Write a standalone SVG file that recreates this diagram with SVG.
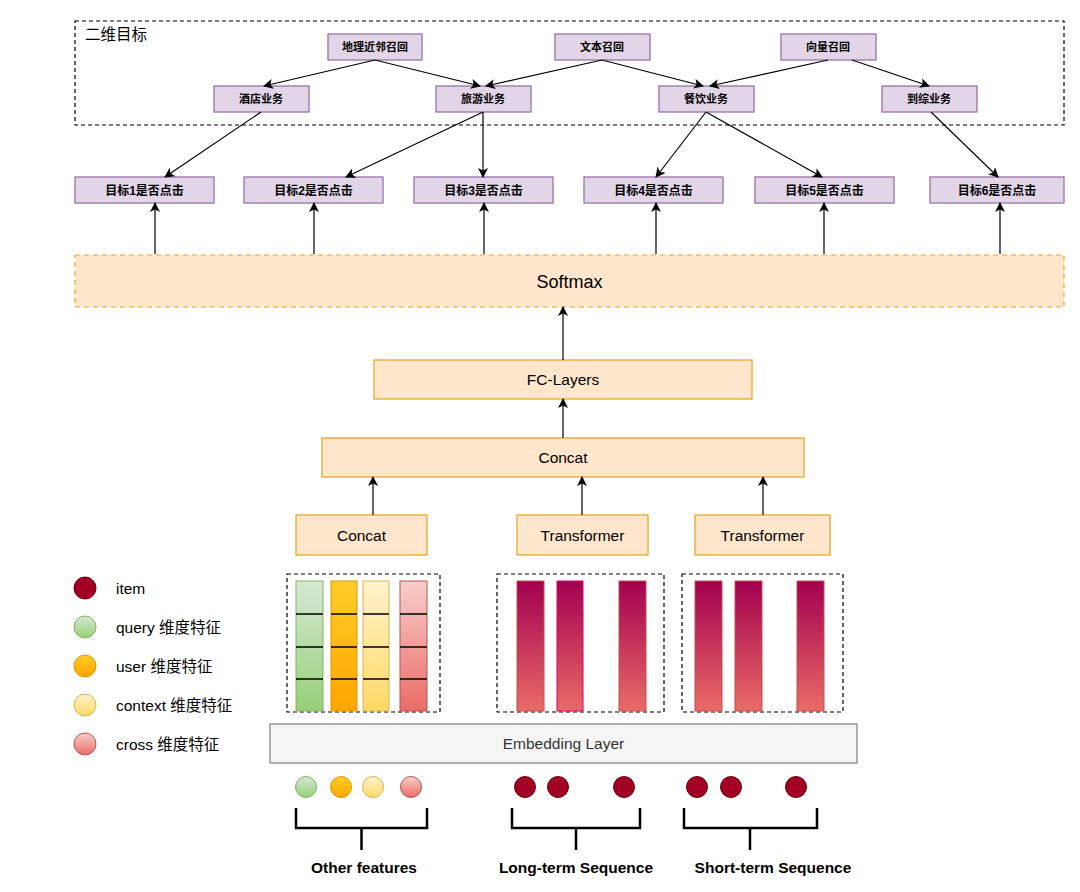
<svg xmlns="http://www.w3.org/2000/svg" width="1080" height="892" viewBox="0 0 1080 892">
<defs>
<marker id="arr" viewBox="0 0 10 10" refX="9" refY="5" markerWidth="10" markerHeight="10" markerUnits="userSpaceOnUse" orient="auto">
<path d="M0,0 L10,5 L0,10 L2.5,5 Z" fill="#000"/>
</marker>
<linearGradient id="gGreen" x1="0" y1="0" x2="0" y2="1"><stop offset="0" stop-color="#d5e8d4"/><stop offset="1" stop-color="#97d077"/></linearGradient>
<linearGradient id="gOrange" x1="0" y1="0" x2="0" y2="1"><stop offset="0" stop-color="#ffcd28"/><stop offset="1" stop-color="#ffa500"/></linearGradient>
<linearGradient id="gYellow" x1="0" y1="0" x2="0" y2="1"><stop offset="0" stop-color="#fff2cc"/><stop offset="1" stop-color="#ffd966"/></linearGradient>
<linearGradient id="gRed" x1="0" y1="0" x2="0" y2="1"><stop offset="0" stop-color="#f8cecc"/><stop offset="1" stop-color="#ea6b66"/></linearGradient>
<linearGradient id="gItem" x1="0" y1="0" x2="0" y2="1"><stop offset="0" stop-color="#a20050"/><stop offset="1" stop-color="#ea6b66"/></linearGradient>
</defs>
<style>
.purple{fill:#e1d5e7;stroke:#9673a6;stroke-width:1.3}
.ptxt{font-family:"Liberation Sans","Noto Sans CJK SC",sans-serif;font-size:11px;font-weight:bold;fill:#000;text-anchor:middle}
.ttxt{font-family:"Liberation Sans","Noto Sans CJK SC",sans-serif;font-size:12px;font-weight:bold;fill:#000;text-anchor:middle}
.orange{fill:#ffe6cc;stroke:#e6a82a;stroke-width:1.3}
.otxt{font-family:"Liberation Sans",sans-serif;font-size:15.5px;fill:#000;text-anchor:middle}
.dash{fill:none;stroke:#000;stroke-width:1.2;stroke-dasharray:4 3}
.conn line,.conn path{stroke:#000;stroke-width:1.2;fill:none}
.arrow{marker-end:url(#arr)}
.leg{font-family:"Liberation Sans","Noto Sans CJK SC",sans-serif;font-size:15.5px;fill:#000}
.blab{font-family:"Liberation Sans",sans-serif;font-size:15.5px;font-weight:bold;fill:#000;text-anchor:middle}
.brk{stroke:#000;stroke-width:2.5;fill:none}
.item{fill:#a20025;stroke:#6f0000;stroke-width:1}
.bar{fill:url(#gItem);stroke:#b85450;stroke-width:1}
.sep{stroke:#000;stroke-width:1.5}
</style>
<rect width="1080" height="892" fill="#fff"/>

<g id="objective-box">
<rect x="75" y="21" width="989" height="104" class="dash"/>
<text x="85" y="40" font-family="'Liberation Sans','Noto Sans CJK SC',sans-serif" font-size="15.5" fill="#000">二维目标</text>
</g>

<g id="n-geo"><rect x="328" y="34" width="94" height="26" class="purple"/><text x="375" y="51" class="ptxt">地理近邻召回</text></g>
<g id="n-text"><rect x="555" y="34" width="95" height="26" class="purple"/><text x="602" y="51" class="ptxt">文本召回</text></g>
<g id="n-vec"><rect x="781" y="34" width="95" height="26" class="purple"/><text x="828" y="51" class="ptxt">向量召回</text></g>

<g id="n-hotel"><rect x="214" y="86" width="95" height="26" class="purple"/><text x="261" y="103" class="ptxt">酒店业务</text></g>
<g id="n-travel"><rect x="436" y="86" width="95" height="26" class="purple"/><text x="483" y="103" class="ptxt">旅游业务</text></g>
<g id="n-food"><rect x="659" y="86" width="95" height="26" class="purple"/><text x="706" y="103" class="ptxt">餐饮业务</text></g>
<g id="n-comp"><rect x="882" y="86" width="95" height="26" class="purple"/><text x="929" y="103" class="ptxt">到综业务</text></g>

<g id="n-t1"><rect x="75" y="177" width="139" height="26" class="purple"/><text x="144.5" y="194.5" class="ttxt">目标1是否点击</text></g>
<g id="n-t2"><rect x="244" y="177" width="139" height="26" class="purple"/><text x="313.5" y="194.5" class="ttxt">目标2是否点击</text></g>
<g id="n-t3"><rect x="414" y="177" width="139" height="26" class="purple"/><text x="483.5" y="194.5" class="ttxt">目标3是否点击</text></g>
<g id="n-t4"><rect x="584" y="177" width="139" height="26" class="purple"/><text x="653.5" y="194.5" class="ttxt">目标4是否点击</text></g>
<g id="n-t5"><rect x="755" y="177" width="139" height="26" class="purple"/><text x="824.5" y="194.5" class="ttxt">目标5是否点击</text></g>
<g id="n-t6"><rect x="930" y="177" width="134" height="26" class="purple"/><text x="997" y="194.5" class="ttxt">目标6是否点击</text></g>

<g id="n-softmax"><rect x="75" y="255" width="989" height="52" fill="#ffe6cc" stroke="#e6a82a" stroke-width="1.2" stroke-dasharray="5 4"/><text x="569.5" y="288" font-family="'Liberation Sans',sans-serif" font-size="18" fill="#000" text-anchor="middle">Softmax</text></g>
<g id="n-fc"><rect x="374" y="360" width="378" height="39" class="orange"/><text x="563" y="385" class="otxt">FC-Layers</text></g>
<g id="n-concat-top"><rect x="322" y="438" width="482" height="39" class="orange"/><text x="563" y="463" class="otxt">Concat</text></g>
<g id="n-concat"><rect x="296" y="515" width="131" height="40" class="orange"/><text x="361.5" y="541" class="otxt">Concat</text></g>
<g id="n-trans1"><rect x="517" y="515" width="131" height="40" class="orange"/><text x="582.5" y="541" class="otxt">Transformer</text></g>
<g id="n-trans2"><rect x="695" y="515" width="135" height="40" class="orange"/><text x="762.5" y="541" class="otxt">Transformer</text></g>

<g id="n-other-emb">
<rect x="287" y="574" width="153" height="138" class="dash"/>
<rect x="296" y="581" width="27" height="130" fill="url(#gGreen)" stroke="#82b366"/>
<rect x="331" y="581" width="26" height="130" fill="url(#gOrange)" stroke="#d79b00"/>
<rect x="363" y="581" width="26" height="130" fill="url(#gYellow)" stroke="#d6b656"/>
<rect x="400" y="581" width="27" height="130" fill="url(#gRed)" stroke="#b85450"/>
<g class="sep">
<line x1="296" y1="614" x2="323" y2="614"/><line x1="296" y1="647" x2="323" y2="647"/><line x1="296" y1="679" x2="323" y2="679"/>
<line x1="331" y1="614" x2="357" y2="614"/><line x1="331" y1="647" x2="357" y2="647"/><line x1="331" y1="679" x2="357" y2="679"/>
<line x1="363" y1="614" x2="389" y2="614"/><line x1="363" y1="647" x2="389" y2="647"/><line x1="363" y1="679" x2="389" y2="679"/>
<line x1="400" y1="614" x2="427" y2="614"/><line x1="400" y1="647" x2="427" y2="647"/><line x1="400" y1="679" x2="427" y2="679"/>
</g>
</g>

<g id="n-long-emb">
<rect x="497" y="574" width="167" height="138" class="dash"/>
<rect x="517" y="581" width="27" height="130" class="bar"/>
<rect x="557" y="581" width="26" height="130" fill="url(#gItem)" stroke="#d80073" stroke-width="1"/>
<rect x="619" y="581" width="27" height="130" class="bar"/>
</g>

<g id="n-short-emb">
<rect x="682" y="574" width="161" height="138" class="dash"/>
<rect x="695" y="581" width="27" height="130" class="bar"/>
<rect x="735" y="581" width="27" height="130" class="bar"/>
<rect x="797" y="581" width="27" height="130" class="bar"/>
</g>

<g id="n-embedding"><rect x="270" y="724" width="587" height="39" fill="#f5f5f5" stroke="#666" stroke-width="1"/><text x="563.5" y="749" font-family="'Liberation Sans',sans-serif" font-size="15.5" fill="#333" text-anchor="middle">Embedding Layer</text></g>

<g id="n-inputs">
<circle cx="306" cy="787" r="10.5" fill="url(#gGreen)" stroke="#82b366"/>
<circle cx="341" cy="787" r="10.5" fill="url(#gOrange)" stroke="#d79b00"/>
<circle cx="373" cy="787" r="10.5" fill="url(#gYellow)" stroke="#d6b656"/>
<circle cx="411" cy="787" r="10.5" fill="url(#gRed)" stroke="#b85450"/>
<circle cx="525" cy="787" r="10.5" class="item"/>
<circle cx="558" cy="787" r="10.5" class="item"/>
<circle cx="624" cy="787" r="10.5" class="item"/>
<circle cx="697" cy="787" r="10.5" class="item"/>
<circle cx="731" cy="787" r="10.5" class="item"/>
<circle cx="796" cy="787" r="10.5" class="item"/>
</g>

<g id="n-brackets">
<path d="M296,808 V828 H427 V808 M361.5,828 V850" class="brk"/>
<path d="M512,808 V828 H640 V808 M576,828 V850" class="brk"/>
<path d="M684,808 V828 H817 V808 M750,828 V850" class="brk"/>
<text x="364" y="873" class="blab">Other features</text>
<text x="576" y="873" class="blab">Long-term Sequence</text>
<text x="773" y="873" class="blab">Short-term Sequence</text>
</g>

<g id="n-legend">
<circle cx="85" cy="588" r="11" class="item"/>
<text x="116" y="594" class="leg">item</text>
<circle cx="85" cy="627" r="11" fill="url(#gGreen)" stroke="#82b366"/>
<text x="116" y="633" class="leg">query 维度特征</text>
<circle cx="85" cy="666" r="11" fill="url(#gOrange)" stroke="#d79b00"/>
<text x="116" y="672" class="leg">user 维度特征</text>
<circle cx="85" cy="705" r="11" fill="url(#gYellow)" stroke="#d6b656"/>
<text x="116" y="711" class="leg">context 维度特征</text>
<circle cx="85" cy="744" r="11" fill="url(#gRed)" stroke="#b85450"/>
<text x="116" y="750" class="leg">cross 维度特征</text>
</g>

<g id="connectors" class="conn">
<line x1="375" y1="60" x2="264" y2="86" class="arrow"/>
<line x1="375" y1="60" x2="480" y2="86" class="arrow"/>
<line x1="602" y1="60" x2="486" y2="86" class="arrow"/>
<line x1="602" y1="60" x2="703" y2="86" class="arrow"/>
<line x1="828" y1="60" x2="710" y2="86" class="arrow"/>
<line x1="852" y1="60" x2="929" y2="86" class="arrow"/>
<line x1="261" y1="112" x2="165" y2="177" class="arrow"/>
<line x1="483" y1="112" x2="346" y2="177" class="arrow"/>
<line x1="483" y1="112" x2="483" y2="177" class="arrow"/>
<line x1="706" y1="112" x2="656" y2="177" class="arrow"/>
<line x1="706" y1="112" x2="822" y2="177" class="arrow"/>
<line x1="931" y1="112" x2="998" y2="177" class="arrow"/>
<line x1="155" y1="254" x2="155" y2="203" class="arrow"/>
<line x1="314" y1="254" x2="314" y2="203" class="arrow"/>
<line x1="484" y1="254" x2="484" y2="203" class="arrow"/>
<line x1="656" y1="254" x2="656" y2="203" class="arrow"/>
<line x1="824" y1="254" x2="824" y2="203" class="arrow"/>
<line x1="1000" y1="254" x2="1000" y2="203" class="arrow"/>
<line x1="563" y1="360" x2="563" y2="307" class="arrow"/>
<line x1="563" y1="438" x2="563" y2="399" class="arrow"/>
<line x1="373" y1="515" x2="373" y2="477" class="arrow"/>
<line x1="582" y1="515" x2="582" y2="477" class="arrow"/>
<line x1="763" y1="515" x2="763" y2="477" class="arrow"/>
</g>
</svg>
